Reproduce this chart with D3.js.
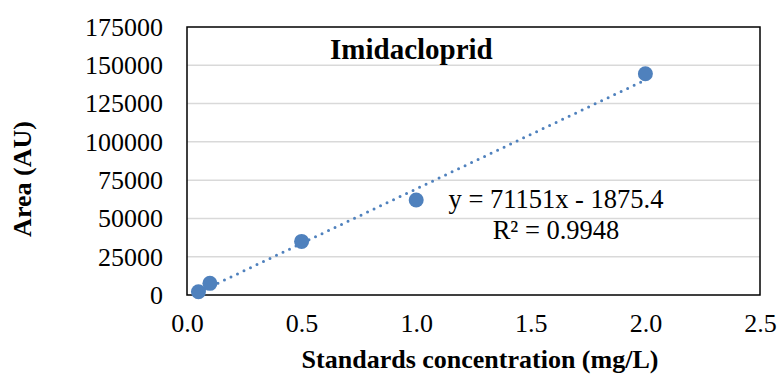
<!DOCTYPE html>
<html>
<head>
<meta charset="utf-8">
<script src="https://cdn.jsdelivr.net/npm/d3@7"></script>
<style>
  body { margin: 0; background: #fff; }
  svg text { font-family: "Liberation Serif", "Times New Roman", serif; fill: #000; }
</style>
</head>
<body>
<div id="chart"></div>
<script>
const width = 779;
const height = 376;

// standards (mg/L) and measured peak areas
const concentrations = [0.05, 0.1, 0.5, 1.0, 2.0];
const areas = [2150, 7600, 35000, 62000, 144500];

// Excel linear trendline as shown on the chart
const slope = 71151;
const intercept = -1875.4;
const equationLabel = 'y = 71151x - 1875.4';
const r2Label = 'R² = 0.9948';

const xTicks = [0, 0.5, 1.0, 1.5, 2.0, 2.5];
const yTicks = [0, 25000, 50000, 75000, 100000, 125000, 150000, 175000];

const margin = { top: 27, right: 19, bottom: 81, left: 187 };
const blue = '#4f81bd';

const svg = d3.select('#chart').append('svg')
  .attr('width', width)
  .attr('height', height);

const x = d3.scaleLinear().domain([0, 2.5]).range([margin.left, width - margin.right]);
const y = d3.scaleLinear().domain([0, 175000]).range([height - margin.bottom, margin.top]);

// gridlines
svg.append('g')
  .selectAll('line')
  .data(yTicks.slice(1, -1))
  .join('line')
  .attr('x1', x(0)).attr('x2', x(2.5))
  .attr('y1', d => y(d)).attr('y2', d => y(d))
  .attr('stroke', '#d9d9d9')
  .attr('stroke-width', 1.5);

// plot border
svg.append('rect')
  .attr('x', x(0)).attr('y', y(175000))
  .attr('width', x(2.5) - x(0))
  .attr('height', y(0) - y(175000))
  .attr('fill', 'none')
  .attr('stroke', '#000')
  .attr('stroke-width', 1.5);

// y axis labels
const yAxis = svg.append('g')
  .attr('transform', `translate(${x(0)},0)`)
  .call(d3.axisLeft(y).tickValues(yTicks).tickFormat(d3.format('d')).tickSize(0).tickPadding(24));
yAxis.select('.domain').remove();
yAxis.selectAll('text')
  .style('font-size', '26px')
  .attr('fill', '#000');

// x axis labels
const xAxis = svg.append('g')
  .attr('transform', `translate(0,${y(0)})`)
  .call(d3.axisBottom(x).tickValues(xTicks).tickFormat(d3.format('.1f')).tickSize(0).tickPadding(19));
xAxis.select('.domain').remove();
xAxis.selectAll('text')
  .style('font-size', '26px')
  .attr('fill', '#000');

// trendline
const xExtent = d3.extent(concentrations);
const line = d3.line().x(d => x(d)).y(d => y(slope * d + intercept));
svg.append('path')
  .datum(xExtent)
  .attr('d', line)
  .attr('fill', 'none')
  .attr('stroke', blue)
  .attr('stroke-width', 3)
  .attr('stroke-linecap', 'round')
  .attr('stroke-dasharray', '0 7.2');

// points
svg.append('g')
  .selectAll('circle')
  .data(concentrations)
  .join('circle')
  .attr('cx', d => x(d))
  .attr('cy', (d, i) => y(areas[i]))
  .attr('r', 7.5)
  .attr('fill', blue);

// title
svg.append('text')
  .attr('x', 330).attr('y', 59)
  .style('font-size', '29px')
  .style('font-weight', 'bold')
  .text('Imidacloprid');

// trendline label
svg.append('text')
  .attr('x', 556).attr('y', 208)
  .attr('text-anchor', 'middle')
  .style('font-size', '26.5px')
  .text(equationLabel);
svg.append('text')
  .attr('x', 556).attr('y', 239)
  .attr('text-anchor', 'middle')
  .style('font-size', '26.5px')
  .text(r2Label);

// axis titles
svg.append('text')
  .attr('transform', 'translate(31,179) rotate(-90)')
  .attr('text-anchor', 'middle')
  .style('font-size', '26px')
  .style('font-weight', 'bold')
  .text('Area (AU)');

svg.append('text')
  .attr('x', 480).attr('y', 368)
  .attr('text-anchor', 'middle')
  .style('font-size', '26px')
  .style('font-weight', 'bold')
  .text('Standards concentration (mg/L)');
</script>
</body>
</html>
